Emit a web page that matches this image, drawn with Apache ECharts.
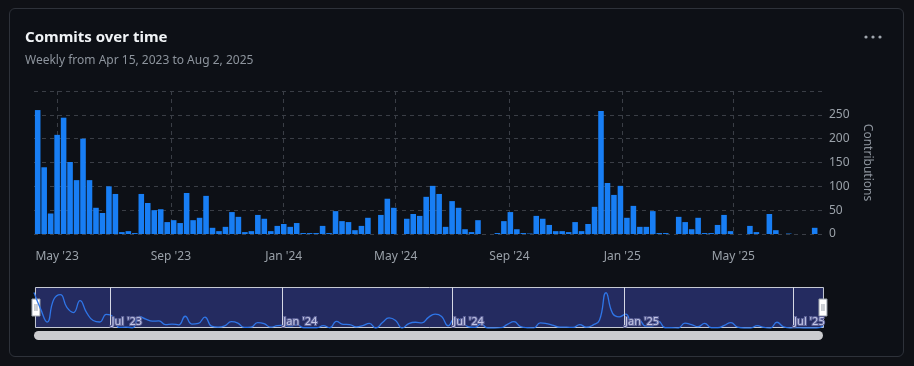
<!DOCTYPE html>
<html>
<head>
<meta charset="utf-8">
<script src="https://cdn.jsdelivr.net/npm/echarts@6/dist/echarts.min.js"></script>
<style>
  html, body { margin: 0; padding: 0; background: #0f1116; }
  #wrap { position: relative; width: 914px; height: 366px; overflow: hidden; }
  #card { position: absolute; left: 9px; top: 8px; width: 893px; height: 347px; border: 1px solid #2e323a; border-radius: 6px; background: #0d1016; }
  #chart { position: absolute; left: 0; top: 0; width: 914px; height: 366px; }
</style>
</head>
<body>
<div id="wrap"><div id="card"></div><div id="chart"></div></div>
<script>
// Weekly buckets (week starting Monday), first week of Apr 15, 2023 through week of Aug 2, 2025
const DAY = 86400000;
const firstWeek = Date.UTC(2023, 3, 10);
const weekCount = 121;
const weeks = [];
for (let i = 0; i < weekCount; i++) weeks.push(firstWeek + i * 7 * DAY);

const commits = [
  260, 140, 43, 208, 244, 151, 113, 200, 113, 55,
  44, 100, 84, 4, 6, 2, 84, 65, 50, 52,
  25, 29, 23, 86, 29, 34, 80, 13, 6, 15,
  46, 36, 4, 6, 40, 32, 6, 17, 21, 15,
  23, 2, 2, 2, 17, 2, 48, 27, 25, 8,
  17, 34, 0, 40, 74, 55, 0, 32, 42, 38,
  78, 101, 84, 15, 69, 55, 10, 4, 29, 0,
  0, 2, 27, 46, 10, 2, 1, 38, 32, 19,
  6, 6, 4, 25, 6, 21, 57, 258, 107, 82,
  101, 34, 59, 15, 15, 48, 2, 2, 0, 36,
  25, 10, 34, 2, 2, 19, 40, 6, 0, 0,
  17, 4, 0, 42, 8, 0, 1, 0, 0, 0,
  13
];

const mainTicks = [
  Date.UTC(2023, 4, 1), Date.UTC(2023, 8, 1), Date.UTC(2024, 0, 1), Date.UTC(2024, 4, 1),
  Date.UTC(2024, 8, 1), Date.UTC(2025, 0, 1), Date.UTC(2025, 4, 1)
];
const zoomTicks = [
  Date.UTC(2023, 6, 1), Date.UTC(2024, 0, 1), Date.UTC(2024, 6, 1), Date.UTC(2025, 0, 1), Date.UTC(2025, 6, 1)
];
const mainRange = [Date.UTC(2023, 3, 6), Date.UTC(2025, 7, 6)];
const zoomRange = [Date.UTC(2023, 3, 10), Date.UTC(2025, 7, 2)];
const monthNames = ['Jan','Feb','Mar','Apr','May','Jun','Jul','Aug','Sep','Oct','Nov','Dec'];
function fmtMonth(v) {
  const d = new Date(v);
  return monthNames[d.getUTCMonth()] + " '" + String(d.getUTCFullYear()).slice(2);
}

const titleText = 'Commits over time';
const subText = 'Weekly from Apr 15, 2023 to Aug 2, 2025';
const yName = 'Contributions';

const seriesData = weeks.map((t, i) => [t, commits[i]]);
const FONT = "'Noto Sans', 'Open Sans', sans-serif";

const chart = echarts.init(document.getElementById('chart'), null, { renderer: 'canvas' });
chart.setOption({
  animation: false,
  backgroundColor: 'transparent',
  textStyle: { fontFamily: FONT },
  title: {
    text: titleText,
    subtext: subText,
    left: 25, top: 30, padding: 0,
    itemGap: 10,
    textStyle: { color: '#f0f3f6', fontSize: 15, fontWeight: 'bold', fontFamily: FONT },
    subtextStyle: { color: '#8d949d', fontSize: 12, fontFamily: FONT }
  },
  graphic: [
    { type: 'circle', shape: { cx: 866, cy: 37, r: 1.6 }, style: { fill: '#a0a6ae' }, silent: true },
    { type: 'circle', shape: { cx: 873, cy: 37, r: 1.6 }, style: { fill: '#a0a6ae' }, silent: true },
    { type: 'circle', shape: { cx: 880, cy: 37, r: 1.6 }, style: { fill: '#a0a6ae' }, silent: true },
    // slider scroll bar under the data zoom
    { type: 'rect', shape: { x: 34, y: 331, width: 789, height: 9, r: 4.5 }, style: { fill: '#cbcccf' }, silent: true }
  ],
  grid: [
    { left: 34, right: 91, top: 91, bottom: 132, containLabel: false },
    { left: 34, right: 91, top: 287, height: 41, containLabel: false }
  ],
  xAxis: [
    {
      type: 'value', gridIndex: 0, min: mainRange[0], max: mainRange[1],
      axisLine: { show: false },
      axisTick: { show: false, customValues: mainTicks },
      axisLabel: { customValues: mainTicks, formatter: fmtMonth, color: '#9aa1a9', fontSize: 12, margin: 17, hideOverlap: false },
      splitLine: { show: true, lineStyle: { color: '#3a3e46', type: [4, 4], width: 1 } }
    },
    {
      type: 'value', gridIndex: 1, min: zoomRange[0], max: zoomRange[1],
      z: 10,
      axisLine: { show: false },
      axisTick: { show: false, customValues: zoomTicks },
      axisLabel: {
        inside: true, customValues: zoomTicks, formatter: fmtMonth, align: 'left', margin: 1,
        color: '#c4c7e6', textBorderColor: '#5d6297', textBorderWidth: 2, fontSize: 11, padding: [0, 0, 0, 1]
      },
      splitLine: { show: true, lineStyle: { color: '#d5d8e4', width: 1, type: 'solid' } }
    },
    {
      type: 'category', gridIndex: 1, show: false, boundaryGap: false,
      data: weeks
    }
  ],
  yAxis: [
    {
      type: 'value', gridIndex: 0, position: 'right',
      min: 0, max: 300, interval: 50,
      name: yName, nameLocation: 'middle', nameRotate: -90, nameGap: 38,
      nameTextStyle: { color: '#8d949d', fontSize: 12 },
      axisLine: { show: false }, axisTick: { show: false },
      axisLabel: { color: '#9aa1a9', fontSize: 12, margin: 6, showMaxLabel: false },
      splitLine: { show: true, lineStyle: { color: '#3a3e46', type: [4, 4], width: 1 } }
    },
    { type: 'value', gridIndex: 1, show: false, min: 0, max: 300, splitLine: { show: false } }
  ],
  dataZoom: [
    {
      type: 'slider', xAxisIndex: 0, start: 0, end: 100,
      left: 34, right: 91, top: 287, height: 41,
      backgroundColor: 'transparent',
      borderColor: '#c6cad3', borderRadius: 0,
      fillerColor: 'rgba(70,80,200,0.42)',
      showDataShadow: false,
      handleIcon: 'path://M0,0H8V17H0Z M3,5V12 M5,5V12',
      handleSize: 17,
      handleStyle: { color: '#ffffff', borderColor: '#9aa0aa', borderWidth: 1 },
      showDetail: false,
      brushSelect: false
    }
  ],
  series: [
    {
      type: 'bar', xAxisIndex: 0, yAxisIndex: 0,
      data: seriesData,
      barCategoryGap: '14%',
      itemStyle: { color: '#187ef4' }
    },
    {
      type: 'line', xAxisIndex: 2, yAxisIndex: 1,
      data: commits,
      smooth: true,
      symbol: 'none',
      silent: true,
      z: 5,
      lineStyle: { color: '#2f76e8', width: 1.3 }
    }
  ]
});
</script>
</body>
</html>
